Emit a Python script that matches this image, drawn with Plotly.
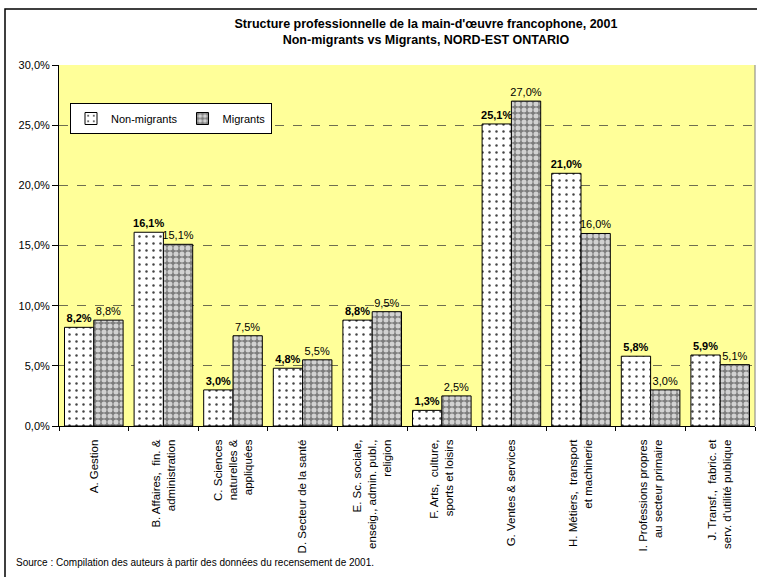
import plotly.graph_objects as go

categories = [
    "A. Gestion",
    "B. Affaires,  fin. &<br>administration",
    "C. Sciences<br>naturelles &<br>appliquées",
    "D. Secteur de la santé",
    "E. Sc. sociale,<br>enseig., admin. publ.,<br>religion",
    "F. Arts,  culture,<br>sports et loisirs",
    "G. Ventes & services",
    "H. Métiers,  transport<br>et machinerie",
    "I. Professions propres<br>au secteur primaire",
    "J. Transf.,  fabric. et<br>serv. d'utilité publique",
]
non_migrants = [8.2, 16.1, 3.0, 4.8, 8.8, 1.3, 25.1, 21.0, 5.8, 5.9]
migrants = [8.8, 15.1, 7.5, 5.5, 9.5, 2.5, 27.0, 16.0, 3.0, 5.1]
y_ticks = [0, 5, 10, 15, 20, 25, 30]
y_tick_labels = [f"{v:.1f}%".replace(".", ",") for v in y_ticks]

FONT = "Liberation Sans, Arial, sans-serif"

fig = go.Figure()
fig.add_trace(go.Bar(
    name="Non-migrants", x=categories, y=non_migrants,
    marker=dict(color="white", line=dict(color="black", width=1),
                pattern=dict(shape=".", bgcolor="white", fgcolor="#444444",
                             size=7, solidity=0.1, fillmode="replace")),
    texttemplate="<b>%{y:.1f}%</b>", textposition="outside",
    textfont=dict(family=FONT, size=11, color="black"),
    constraintext="none", cliponaxis=False,
))
fig.add_trace(go.Bar(
    name="Migrants", x=categories, y=migrants,
    marker=dict(color="#808080", line=dict(color="black", width=1),
                pattern=dict(shape=".", bgcolor="#7c7c7c", fgcolor="#d2d2d2",
                             size=6, solidity=0.55, fillmode="replace")),
    texttemplate="%{y:.1f}%", textposition="outside",
    textfont=dict(family=FONT, size=11, color="black"),
    constraintext="none", cliponaxis=False,
))

# plot area: x 59..755, y 65..426 (pixels)
L, R, T, B = 59, 2, 65, 151
W, H = 757, 577
pw, ph = W - L - R, H - T - B

fig.update_layout(
    width=W, height=H,
    margin=dict(l=L, r=R, t=T, b=B, pad=0),
    paper_bgcolor="white", plot_bgcolor="#FFFF99",
    separators=", ",
    font=dict(family=FONT, size=11, color="black"),
    barmode="group", bargap=0.158, bargroupgap=0,
    title=dict(
        text="<b>Structure professionnelle de la main-d'œuvre francophone, 2001<br>Non-migrants vs Migrants, NORD-EST ONTARIO</b>",
        x=426 / W, xanchor="center", xref="container",
        y=1 - 28 / H, yanchor="middle", yref="container",
        font=dict(family=FONT, size=12.5, color="black"),
    ),
    legend=dict(
        orientation="h", x=(70 - L) / pw, xanchor="left",
        y=(426 - 103) / ph, yanchor="top",
        bgcolor="white", bordercolor="black", borderwidth=1,
        font=dict(family=FONT, size=11, color="black"),
        itemwidth=30, tracegroupgap=0,
    ),
    showlegend=True,
    xaxis=dict(
        showline=True, linecolor="black", linewidth=1,
        ticks="outside", ticklen=4, tickcolor="black", tickson="boundaries",
        tickangle=-90, tickfont=dict(family=FONT, size=11.5, color="black"),
        ticklabelstandoff=8,
        showgrid=False, automargin=False,
    ),
    yaxis=dict(
        range=[0, 30], tickvals=y_ticks, ticktext=y_tick_labels,
        showline=True, linecolor="black", linewidth=1,
        ticks="outside", ticklen=6, tickcolor="black",
        showgrid=True, gridcolor="#6e6e50", griddash="dash", gridwidth=1,
        zeroline=False, tickfont=dict(family=FONT, size=11, color="black"),
        automargin=False,
    ),
    shapes=[
        dict(type="line", xref="paper", yref="paper", x0=1, x1=1, y0=0, y1=1,
             line=dict(color="#808080", width=1)),
        dict(type="rect", xref="paper", yref="paper",
             x0=(5 - L) / pw, x1=(W + 5 - L) / pw,
             y0=(426 - (H + 5)) / ph, y1=(426 - 9) / ph,
             line=dict(color="black", width=1.5), layer="above"),
    ],
    annotations=[
        dict(text="Source : Compilation des auteurs à partir des données du recensement de 2001.",
             xref="paper", yref="paper", x=(14 - L) / pw, xanchor="left",
             y=(426 - 562) / ph, yanchor="middle", showarrow=False,
             font=dict(family=FONT, size=10, color="black")),
    ],
)

fig.write_html(
    "out.html",
    config={"displayModeBar": False},
    post_script="document.body.style.margin='0';document.body.style.overflow='hidden';",
)
